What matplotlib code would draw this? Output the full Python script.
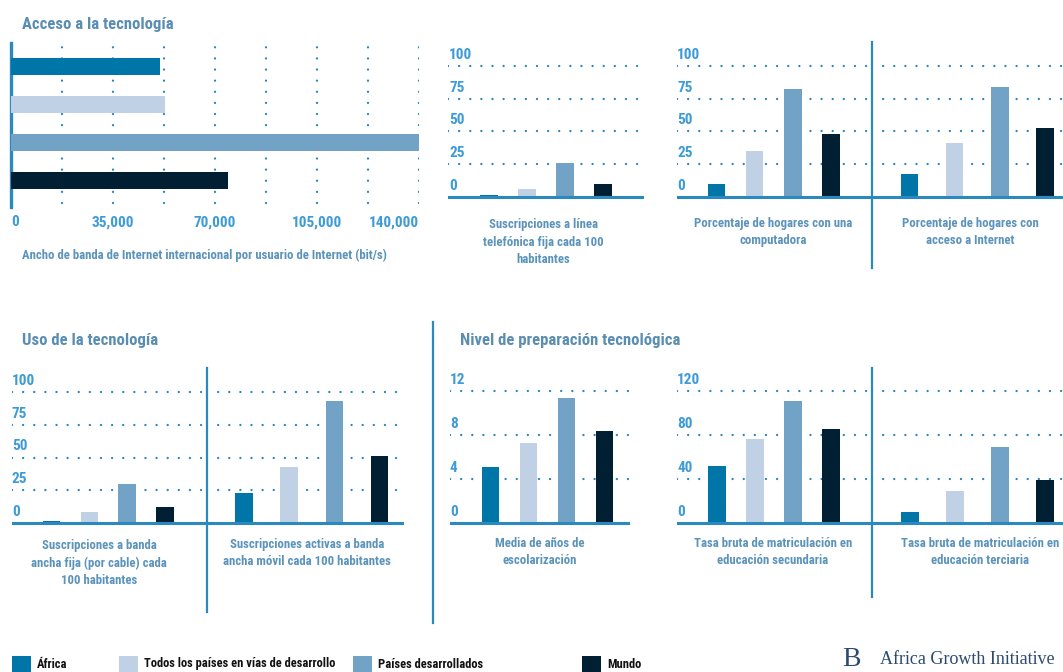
import matplotlib
matplotlib.use("Agg")
import matplotlib.pyplot as plt
from matplotlib import font_manager as fm
from matplotlib import transforms as mtransforms
from matplotlib.patches import Rectangle

# ---------------------------------------------------------------- data
series = ["África", "Todos los países en vías de desarrollo",
          "Países desarrollados", "Mundo"]
colors = ["#0076a8", "#c0d1e5", "#72a2c6", "#001f33"]

bandwidth = [51000, 53000, 140000, 74500]
bandwidth_ticks = [0, 35000, 70000, 105000, 140000]
bandwidth_ticklabels = ["0", "35,000", "70,000", "105,000", "140,000"]

fixed_phone = [1.5, 6.4, 26.0, 9.7]
home_computer = [10.3, 35.4, 82.8, 48.0]
home_internet = [17.4, 41.5, 84.0, 52.6]
fixed_broadband = [1.3, 8.7, 30.0, 12.2]
mobile_broadband = [22.9, 42.7, 92.9, 51.4]
schooling_years = [5.1, 7.3, 11.4, 8.4]
secondary_enrol = [51.7, 76.3, 111.2, 85.4]
tertiary_enrol = [10.0, 28.9, 69.3, 39.5]

pct_ticks = [0, 25, 50, 75, 100]
years_ticks = [0, 4, 8, 12]
enrol_ticks = [0, 40, 80, 120]

# ---------------------------------------------------------------- style
names = {f.name for f in fm.fontManager.ttflist}
NARROW = {"family": ["DejaVu Sans"], "fontstretch": "condensed"}
for cand in ["Liberation Sans Narrow", "Roboto Condensed", "Open Sans Condensed"]:
    if cand in names:
        NARROW = {"family": [cand, "DejaVu Sans"]}
        break

TITLE_C = "#5a8db2"
LABEL_C = "#5b93ba"
TICK_C = "#3d9bd6"
AXIS_C = "#2a8ac0"
DOT_C = "#2a86bb"

W, H = 1063, 672
fig = plt.figure(figsize=(W / 100, H / 100), dpi=100)
fig.patch.set_facecolor("white")


def px_axes(l, t, r, b):
    ax = fig.add_axes([l / W, 1 - b / H, (r - l) / W, (b - t) / H])
    ax.set_axis_off()
    return ax


def ftext(x, y, s, size, color, weight="normal", ha="left", va="center", **kw):
    fig.text(x / W, 1 - y / H, s, fontsize=size, color=color, fontweight=weight,
             ha=ha, va=va, linespacing=1.45, **NARROW, **kw)


def dotted(ax, orient, v, **kw):
    style = dict(color=DOT_C, lw=1.7, linestyle=(0, (0.01, 4.7)),
                 dash_capstyle="round", zorder=1)
    style.update(kw)
    if orient == "h":
        ax.axhline(v, **style)
    else:
        ax.axvline(v, **style)


def vline(x, y0, y1, lw=1.6):
    fig.add_artist(plt.Line2D([x / W, x / W], [1 - y0 / H, 1 - y1 / H],
                              color=AXIS_C, lw=lw, transform=fig.transFigure))


def column_panel(l, r, top, baseline, x0, step, scale, values, ticks,
                 label_px=None):
    ax = px_axes(l, top, r, baseline + 4)
    ax.set_xlim((l - x0) / step, (r - x0) / step)
    ax.set_ylim(-4 / scale, (baseline - top) / scale)
    ax.bar(range(len(values)), values, width=17.5 / step, color=colors,
           zorder=3)
    for tk in ticks[1:]:
        dotted(ax, "h", tk)
    ax.axhline(0, color=AXIS_C, lw=2.2, zorder=4)
    if label_px is not None:
        tr = mtransforms.offset_copy(
            mtransforms.blended_transform_factory(ax.transAxes, ax.transData),
            fig=fig, x=0, y=4, units="dots")
        for tk in ticks:
            ax.text((label_px - l) / (r - l), tk, str(tk), transform=tr,
                    ha="left", va="bottom", fontsize=11, color=TICK_C,
                    fontweight="semibold", **NARROW)
    return ax


# ---------------------------------------------------------------- bandwidth (horizontal bars)
ax1 = px_axes(11, 43, 419, 207)
ax1.set_xlim(0, 140000)
ax1.set_ylim((207 - 66.5) / 38, (43 - 66.5) / 38)
ax1.barh(range(4), bandwidth, height=17 / 38, color=colors, zorder=3)
for k in range(1, 9):
    dotted(ax1, "v", 17500 * k, ymin=4 / 164, ymax=1.0)
ax1.set_axis_on()
for s in ax1.spines.values():
    s.set_visible(False)
ax1.spines["left"].set_visible(True)
ax1.spines["left"].set_color(AXIS_C)
ax1.spines["left"].set_linewidth(2.4)
ax1.set_yticks([])
ax1.set_xticks(bandwidth_ticks)
ax1.set_xticklabels(bandwidth_ticklabels, fontsize=11, color=TICK_C,
                    fontweight="semibold", **NARROW)
ax1.tick_params(axis="x", length=0, pad=6)
tl = ax1.get_xticklabels()
tl[0].set_ha("left")
tl[-1].set_ha("right")
ax1.patch.set_visible(False)

# ---------------------------------------------------------------- top row columns
s_top = 131 / 100
column_panel(448, 644, 56, 197, 489, 38, s_top, fixed_phone, pct_ticks, 449)
column_panel(677, 872, 56, 197, 716.5, 38.2, s_top, home_computer, pct_ticks, 677)
column_panel(872, 1070, 56, 197, 909.5, 45.2, s_top, home_internet, pct_ticks)
vline(872, 42, 268)

# ---------------------------------------------------------------- bottom row columns
s_bot = 131 / 100
column_panel(12, 207, 382, 523, 51.5, 37.8, s_bot, fixed_broadband, pct_ticks, 12)
column_panel(207, 404, 382, 523, 244, 45.2, s_bot, mobile_broadband, pct_ticks)
vline(207, 368, 612)

column_panel(450, 630, 382, 523, 490.5, 38, 132 / 12, schooling_years,
             years_ticks, 450)
column_panel(677, 872, 382, 523, 717, 38, 132 / 120, secondary_enrol,
             enrol_ticks, 677)
column_panel(872, 1070, 382, 523, 910, 45, 132 / 120, tertiary_enrol,
             enrol_ticks)
vline(872, 368, 597)
vline(433, 322, 623)

# ---------------------------------------------------------------- titles and captions
ftext(22, 25, "Acceso a la tecnología", 12, TITLE_C, weight="bold")
ftext(22, 340, "Uso de la tecnología", 12, TITLE_C, weight="bold")
ftext(460, 340, "Nivel de preparación tecnológica", 12, TITLE_C, weight="bold")

CAP = dict(weight="semibold")
CS = 9.2
ftext(22, 255, "Ancho de banda de Internet internacional por usuario de Internet (bit/s)",
      CS, LABEL_C, **CAP)
ftext(543, 242, "Suscripciones a línea\ntelefónica fija cada 100\nhabitantes",
      CS, LABEL_C, ha="center", **CAP)
ftext(773, 232, "Porcentaje de hogares con una\ncomputadora", CS, LABEL_C,
      ha="center", **CAP)
ftext(970, 232, "Porcentaje de hogares con\nacceso a Internet", CS, LABEL_C,
      ha="center", **CAP)
ftext(99, 563, "Suscripciones a banda\nancha fija (por cable) cada\n100 habitantes",
      CS, LABEL_C, ha="center", **CAP)
ftext(307, 553, "Suscripciones activas a banda\nancha móvil cada 100 habitantes",
      CS, LABEL_C, ha="center", **CAP)
ftext(540, 552, "Media de años de\nescolarización", CS, LABEL_C, ha="center", **CAP)
ftext(773, 552, "Tasa bruta de matriculación en\neducación secundaria", CS,
      LABEL_C, ha="center", **CAP)
ftext(980, 552, "Tasa bruta de matriculación en\neducación terciaria", CS,
      LABEL_C, ha="center", **CAP)

# ---------------------------------------------------------------- legend
legend_x = [12, 119, 353, 582]
for x, name, c in zip(legend_x, series, colors):
    fig.add_artist(Rectangle((x / W, 1 - 674 / H), 19 / W, 18 / H,
                             transform=fig.transFigure, color=c, lw=0))
    ftext(x + 25, 664, name, 9, "#111111", weight="semibold")

# ---------------------------------------------------------------- brand mark
fig.text(842 / W, 1 - 660 / H, "B", fontsize=20, color="#2d4a6e",
         family=["Liberation Serif", "DejaVu Serif"], ha="left", va="center")
fig.text(880 / W, 1 - 659 / H, "Africa Growth Initiative", fontsize=13,
         color="#2d4a6e", family=["Liberation Serif", "DejaVu Serif"],
         ha="left", va="center")

fig.savefig("out.png", dpi=100, facecolor="white")
